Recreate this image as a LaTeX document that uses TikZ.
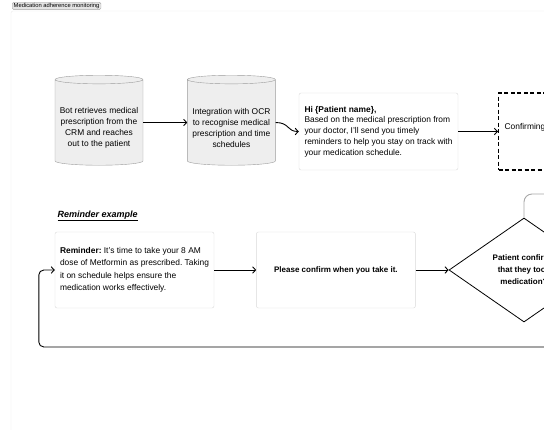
\documentclass[tikz,border=0pt]{standalone}
\usepackage{fontspec}
\setmainfont{Liberation Sans}
\usetikzlibrary{shapes.geometric}
\usetikzlibrary{positioning}
\usetikzlibrary{arrows.meta}

\definecolor{boxline}{HTML}{D9D9D9}
\definecolor{cylfill}{HTML}{EEEEEE}
\definecolor{cylline}{HTML}{9C9C9C}
\definecolor{frameline}{HTML}{EBEBEB}
\definecolor{tabfill}{HTML}{E4E4E4}
\definecolor{tabline}{HTML}{A6A6A6}
\definecolor{linkgray}{HTML}{A8A8A8}

\begin{document}
\frenchspacing
\begin{tikzpicture}[x=1pt,y=-1pt,
	>={Straight Barb[length=3pt,width=6.5pt]},
	font=\fontsize{8.4}{10.8}\selectfont,
	storage/.style={cylinder, shape border rotate=90, aspect=0.1, draw=cylline, fill=cylfill,
		minimum width=88pt, minimum height=90pt, text width=86pt, inner sep=0pt},
	storage text/.style={align=center, inner sep=0pt},
	message box/.style={draw=boxline, fill=white, rounded corners=2pt, minimum width=159pt,
		minimum height=76pt, inner sep=0pt},
	pending box/.style={draw, line width=1.2pt, dash pattern=on 4pt off 2.5pt, minimum height=77pt,
		text width=120pt, inner xsep=6pt, align=left, text depth=10pt},
	decision/.style={diamond, draw, line width=0.8pt, minimum width=150pt, minimum height=104pt,
		inner sep=0pt, align=center, font=\fontsize{8}{12}\selectfont\bfseries},
	flow/.style={->, line width=0.9pt}]
	\useasboundingbox (0,0) rectangle (544,432);
	% frame
	\draw[frameline, rounded corners=2pt] (11,430) -- (11,11) -- (544,11);
	\node[draw=tabline, fill=tabfill, rounded corners=1.5pt, inner xsep=1.5pt, inner ysep=1pt,
		anchor=north west, font=\fontsize{5.8}{6}\selectfont] (tab) at (12,2) {Medication adherence monitoring};
	% top row
	\node[storage] (crm) at (99,122.5) {};
	\node[storage, right=44pt of crm] (ocr) {};
	\node[storage text] (crm text) at ([yshift=-5.5pt]crm.center)
		{Bot retrieves medical\\prescription from the\\CRM and reaches\\out to the patient};
	\node[storage text] (ocr text) at ([yshift=-5.5pt]ocr.center)
		{Integration with OCR\\to recognise medical\\prescription and time\\schedules};
	\node[message box, minimum height=77pt, align=left] (hi) at (378.5,131.5)
		{\textbf{Hi \{Patient name\},}\\Based on the medical prescription from\\your doctor, I’ll send you timely\\reminders to help you stay on track with\\your medication schedule.};
	\node[pending box, anchor=west] (confirming) at (498,131.5) {Confirming};
	% reminder row
	\node[anchor=west, font=\fontsize{9}{10}\selectfont\bfseries\itshape] (title) at (54,216) {\underline{Reminder example}};
	\node[message box, align=left, font=\fontsize{8.4}{12.5}\selectfont] (reminder) at (134.5,270)
		{\textbf{Reminder:} It’s time to take your 8 AM\\dose of Metformin as prescribed. Taking\\it on schedule helps ensure the\\medication works effectively.};
	\node[message box, right=42pt of reminder, align=center, font=\fontsize{8}{10}\selectfont\bfseries] (ask) {Please confirm when you take it.};
	\node[decision, right=33pt of ask] (taken) {Patient confirms\\that they took\\medication?};
	\coordinate (offtop) at (600,194);
	\coordinate (offloop) at (600,347);
	% connectors
	\draw[flow] (crm) -- (ocr);
	\draw[flow] (ocr.east) .. controls +(14pt,0) and +(-12pt,0) .. (hi.west);
	\draw[flow] (hi) -- (confirming);
	\draw[flow] (reminder) -- (ask);
	\draw[flow] (ask) -- (taken);
	\draw[linkgray, line width=0.9pt, rounded corners=8pt] (taken.north) |- (offtop);
	\draw[flow, rounded corners=5pt] (offloop) -| ([xshift=-16pt]reminder.west) -- (reminder.west);
\end{tikzpicture}
\end{document}
